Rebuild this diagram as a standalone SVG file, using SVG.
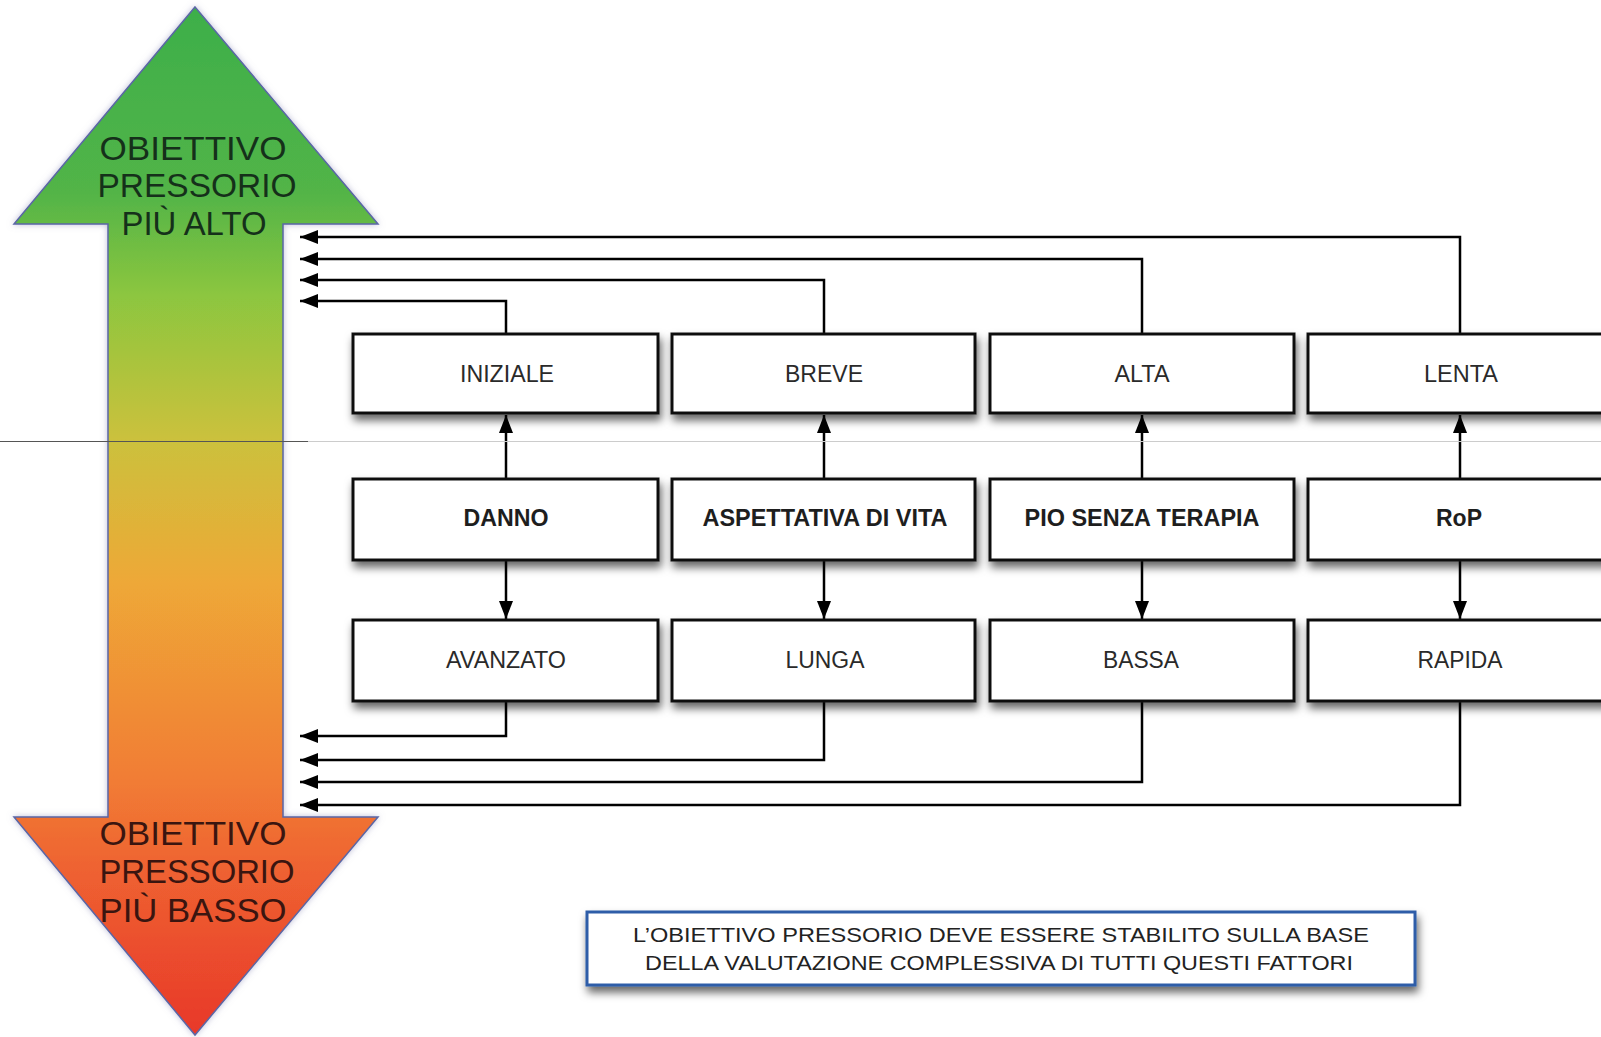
<svg xmlns="http://www.w3.org/2000/svg" width="1601" height="1037" viewBox="0 0 1601 1037">
<defs>
<linearGradient id="grad" gradientUnits="userSpaceOnUse" x1="0" y1="7" x2="0" y2="1035">
<stop offset="0" stop-color="#3daf4a"/>
<stop offset="0.18" stop-color="#52b447"/>
<stop offset="0.28" stop-color="#8cc63f"/>
<stop offset="0.42" stop-color="#cbc13c"/>
<stop offset="0.56" stop-color="#eea837"/>
<stop offset="0.75" stop-color="#f17d35"/>
<stop offset="0.85" stop-color="#ee5f30"/>
<stop offset="1" stop-color="#e8382a"/>
</linearGradient>
<filter id="shadow" x="-10%" y="-20%" width="125%" height="160%">
<feDropShadow dx="2" dy="6" stdDeviation="4" flood-color="#000" flood-opacity="0.6"/>
</filter>
<filter id="glow" x="-10%" y="-5%" width="120%" height="110%">
<feDropShadow dx="0" dy="0" stdDeviation="3" flood-color="#8080b0" flood-opacity="0.5"/>
</filter>
<marker id="ah" markerUnits="userSpaceOnUse" markerWidth="18" markerHeight="14" refX="18" refY="7" orient="auto">
<path d="M0,0 L18,7 L0,14 z" fill="#000"/>
</marker>
<style>
.box{fill:#fff;stroke:#111;stroke-width:3;filter:url(#shadow)}
.lbl{font-family:"Liberation Sans",Arial,Helvetica,sans-serif;font-size:23px;fill:#2a2a2a;text-anchor:middle}
.bold{font-weight:bold;fill:#1e1e1e}
.big{font-family:"Liberation Sans",Arial,Helvetica,sans-serif;font-size:34px;text-anchor:middle}
.conn{fill:none;stroke:#000;stroke-width:2.5;marker-end:url(#ah)}
.note{font-family:"Liberation Sans",Arial,Helvetica,sans-serif;font-size:21px;fill:#222;text-anchor:middle}
</style>
</defs>
<rect width="1601" height="1037" fill="#fff"/>

<g id="arrow-scale">
<polygon points="195,7 378,224 283,224 283,817 378,817 195,1035 14,817 108,817 108,224 14,224" fill="url(#grad)" stroke="#5a66a6" stroke-width="1.5" filter="url(#glow)"/>
<g class="big" fill="#15301a">
<text x="193" y="160" textLength="187" lengthAdjust="spacingAndGlyphs">OBIETTIVO</text>
<text x="197" y="197" textLength="199" lengthAdjust="spacingAndGlyphs">PRESSORIO</text>
<text x="194" y="235" textLength="145" lengthAdjust="spacingAndGlyphs">PIÙ ALTO</text>
</g>
<g class="big" fill="#3a1510">
<text x="193" y="845" textLength="187" lengthAdjust="spacingAndGlyphs">OBIETTIVO</text>
<text x="197" y="883" textLength="195" lengthAdjust="spacingAndGlyphs">PRESSORIO</text>
<text x="193" y="922" textLength="187" lengthAdjust="spacingAndGlyphs">PIÙ BASSO</text>
</g>
</g>

<g id="connectors">
<path class="conn" d="M506,334 V301 H300"/>
<path class="conn" d="M824,334 V280 H300"/>
<path class="conn" d="M1142,334 V259 H300"/>
<path class="conn" d="M1460,334 V237 H300"/>
<path class="conn" d="M506,701 V736 H300"/>
<path class="conn" d="M824,701 V760 H300"/>
<path class="conn" d="M1142,701 V782 H300"/>
<path class="conn" d="M1460,701 V805 H300"/>
<path class="conn" d="M506,479 V415"/>
<path class="conn" d="M824,479 V415"/>
<path class="conn" d="M1142,479 V415"/>
<path class="conn" d="M1460,479 V415"/>
<path class="conn" d="M506,560 V619"/>
<path class="conn" d="M824,560 V619"/>
<path class="conn" d="M1142,560 V619"/>
<path class="conn" d="M1460,560 V619"/>
</g>

<g id="n-iniziale"><rect class="box" x="353" y="334" width="305" height="79"/><text class="lbl" x="507" y="382" textLength="94" lengthAdjust="spacingAndGlyphs">INIZIALE</text></g>
<g id="n-breve"><rect class="box" x="672" y="334" width="303" height="79"/><text class="lbl" x="824" y="382" textLength="78" lengthAdjust="spacingAndGlyphs">BREVE</text></g>
<g id="n-alta"><rect class="box" x="990" y="334" width="304" height="79"/><text class="lbl" x="1142" y="382" textLength="55" lengthAdjust="spacingAndGlyphs">ALTA</text></g>
<g id="n-lenta"><rect class="box" x="1308" y="334" width="310" height="79"/><text class="lbl" x="1461" y="382" textLength="74" lengthAdjust="spacingAndGlyphs">LENTA</text></g>

<g id="n-danno"><rect class="box" x="353" y="479" width="305" height="81"/><text class="lbl bold" x="506" y="526" textLength="85" lengthAdjust="spacingAndGlyphs">DANNO</text></g>
<g id="n-aspettativa"><rect class="box" x="672" y="479" width="303" height="81"/><text class="lbl bold" x="825" y="526" textLength="245" lengthAdjust="spacingAndGlyphs">ASPETTATIVA DI VITA</text></g>
<g id="n-pio"><rect class="box" x="990" y="479" width="304" height="81"/><text class="lbl bold" x="1142" y="526" textLength="235" lengthAdjust="spacingAndGlyphs">PIO SENZA TERAPIA</text></g>
<g id="n-rop"><rect class="box" x="1308" y="479" width="310" height="81"/><text class="lbl bold" x="1459" y="526" textLength="46" lengthAdjust="spacingAndGlyphs">RoP</text></g>

<g id="n-avanzato"><rect class="box" x="353" y="620" width="305" height="81"/><text class="lbl" x="506" y="668" textLength="120" lengthAdjust="spacingAndGlyphs">AVANZATO</text></g>
<g id="n-lunga"><rect class="box" x="672" y="620" width="303" height="81"/><text class="lbl" x="825" y="668" textLength="79" lengthAdjust="spacingAndGlyphs">LUNGA</text></g>
<g id="n-bassa"><rect class="box" x="990" y="620" width="304" height="81"/><text class="lbl" x="1141" y="668" textLength="76" lengthAdjust="spacingAndGlyphs">BASSA</text></g>
<g id="n-rapida"><rect class="box" x="1308" y="620" width="310" height="81"/><text class="lbl" x="1460" y="668" textLength="85" lengthAdjust="spacingAndGlyphs">RAPIDA</text></g>

<g id="n-note">
<rect x="587" y="912" width="828" height="73" fill="#fff" stroke="#2f5da8" stroke-width="3" filter="url(#shadow)"/>
<text class="note" x="1001" y="942" textLength="736" lengthAdjust="spacingAndGlyphs">L’OBIETTIVO PRESSORIO DEVE ESSERE STABILITO SULLA BASE</text>
<text class="note" x="999" y="970" textLength="708" lengthAdjust="spacingAndGlyphs">DELLA VALUTAZIONE COMPLESSIVA DI TUTTI QUESTI FATTORI</text>
</g>

<line x1="0" y1="441.5" x2="308" y2="441.5" stroke="#555" stroke-width="1"/>
<line x1="308" y1="441.5" x2="1601" y2="441.5" stroke="#ccc" stroke-width="1"/>
</svg>
